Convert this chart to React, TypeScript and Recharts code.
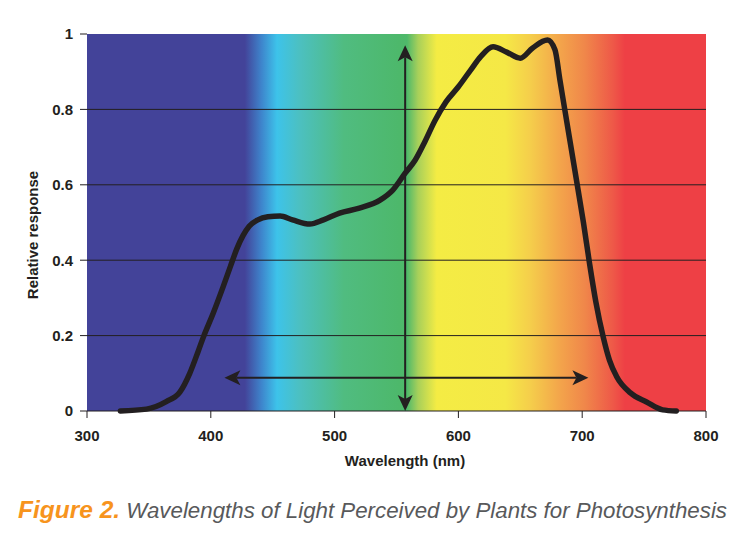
import React from "react";
import { Label, Line, LineChart, ReferenceArea, ReferenceLine, XAxis, YAxis } from "recharts";

// wavelength (nm) and relative response
const wavelengths = [
  327, 348, 364, 375, 383, 390, 394, 402, 410, 416, 421, 426, 431, 438, 446, 456, 466, 480, 491,
  504, 520, 537, 547, 557, 565, 573, 581, 590, 600, 610, 618, 628, 639, 650, 660, 672, 678, 682,
  686, 690, 696, 701, 706, 711, 717, 722, 728, 739, 752, 765, 776,
];
const response = [
  0, 0.005, 0.025, 0.05, 0.1, 0.16, 0.196, 0.26, 0.33, 0.385, 0.43, 0.465, 0.49, 0.507, 0.515,
  0.517, 0.507, 0.496, 0.507, 0.525, 0.538, 0.56, 0.586, 0.631, 0.665, 0.715, 0.77, 0.82, 0.86,
  0.905, 0.94, 0.966, 0.952, 0.936, 0.963, 0.984, 0.958, 0.878, 0.798, 0.719, 0.6, 0.5, 0.39,
  0.29, 0.196, 0.135, 0.09, 0.048, 0.024, 0.003, 0,
];
const xTicks = [300, 400, 500, 600, 700, 800];
const yTicks = [0, 0.2, 0.4, 0.6, 0.8, 1];
const gridLevels = [0.2, 0.4, 0.6, 0.8];
const verticalArrow = [{ x: 557, y: 0 }, { x: 557, y: 0.97 }];
const horizontalArrow = [{ x: 411, y: 0.088 }, { x: 705, y: 0.088 }];

const data = wavelengths.map((w, i) => ({ w, r: response[i] }));

// spectrum background stops: [offset, color]
const spectrum: [number, string][] = [
  [0, "#434399"],
  [0.255, "#434399"],
  [0.282, "#3E85CC"],
  [0.307, "#3DC3EA"],
  [0.344, "#4CC0C0"],
  [0.415, "#50BC80"],
  [0.504, "#4DB86B"],
  [0.517, "#4FB96A"],
  [0.535, "#A8D05A"],
  [0.565, "#F4EC44"],
  [0.676, "#F5E846"],
  [0.716, "#F5CE4B"],
  [0.766, "#F3A34B"],
  [0.804, "#F0874A"],
  [0.85, "#EE5848"],
  [0.869, "#EE4045"],
  [1, "#EE4045"],
];

const INK = "#231F20";

function headPath(tx: number, ty: number, ux: number, uy: number, L: number, hw: number, notch: number) {
  const bx = tx - ux * L;
  const by = ty - uy * L;
  const px = -uy;
  const py = ux;
  const nx = tx - ux * (L - notch);
  const ny = ty - uy * (L - notch);
  return `M${tx},${ty} L${bx + px * hw},${by + py * hw} L${nx},${ny} L${bx - px * hw},${by - py * hw} Z`;
}

function DoubleArrow(props: any) {
  const { x1, y1, x2, y2 } = props;
  const len = Math.hypot(x2 - x1, y2 - y1) || 1;
  const ux = (x2 - x1) / len;
  const uy = (y2 - y1) / len;
  const L = 16;
  const hw = 7.5;
  const notch = 4;
  return (
    <g>
      <line
        x1={x1 + ux * (L - notch)}
        y1={y1 + uy * (L - notch)}
        x2={x2 - ux * (L - notch)}
        y2={y2 - uy * (L - notch)}
        stroke={INK}
        strokeWidth={2}
      />
      <path d={headPath(x2, y2, ux, uy, L, hw, notch)} fill={INK} />
      <path d={headPath(x1, y1, -ux, -uy, L, hw, notch)} fill={INK} />
    </g>
  );
}

const tickStyle = { fontSize: 15, fontWeight: "bold" as const, fill: INK };

export default function App() {
  return (
    <div
      style={{
        position: "absolute",
        left: 0,
        top: 0,
        width: 754,
        height: 559,
        background: "#fff",
        fontFamily: '"Liberation Sans", Arial, sans-serif',
      }}
    >
      <LineChart width={754} height={480} data={data} margin={{ top: 34, right: 48, bottom: 0, left: 0 }}>
        <defs>
          <linearGradient id="spectrum" x1="0" y1="0" x2="1" y2="0">
            {spectrum.map(([o, c]) => (
              <stop key={o} offset={o} stopColor={c} />
            ))}
          </linearGradient>
        </defs>
        <XAxis
          dataKey="w"
          type="number"
          domain={[300, 800]}
          ticks={xTicks}
          height={69}
          tick={tickStyle}
          axisLine={{ stroke: INK }}
          tickLine={{ stroke: INK }}
          tickSize={7}
          tickMargin={12}
        >
          <Label
            content={() => (
              <text x={405} y={466} textAnchor="middle" fontSize={15} fontWeight="bold" fill={INK}>
                Wavelength (nm)
              </text>
            )}
          />
        </XAxis>
        <YAxis
          type="number"
          domain={[0, 1]}
          ticks={yTicks}
          width={87}
          tick={tickStyle}
          axisLine={false}
          tickLine={{ stroke: INK }}
          tickSize={7}
          tickMargin={7}
        >
          <Label
            content={() => (
              <text
                x={37.5}
                y={235}
                transform="rotate(-90 37.5 235)"
                textAnchor="middle"
                fontSize={15}
                fontWeight="bold"
                fill={INK}
              >
                Relative response
              </text>
            )}
          />
        </YAxis>
        <ReferenceArea x1={300} x2={800} y1={0} y2={1} fill="url(#spectrum)" fillOpacity={1} stroke="none" />
        {gridLevels.map((v) => (
          <ReferenceLine key={v} y={v} stroke={INK} strokeWidth={1} />
        ))}
        <ReferenceLine segment={verticalArrow} shape={DoubleArrow} />
        <ReferenceLine segment={horizontalArrow} shape={DoubleArrow} />
        <Line
          dataKey="r"
          type="monotone"
          stroke={INK}
          strokeWidth={5.5}
          strokeLinecap="round"
          strokeLinejoin="round"
          dot={false}
          activeDot={false}
          isAnimationActive={false}
        />
      </LineChart>
      <div
        style={{
          position: "absolute",
          left: 18,
          top: 497,
          fontSize: 22.3,
          fontStyle: "italic",
          whiteSpace: "nowrap",
          color: "#58595B",
          lineHeight: "26px",
        }}
      >
        <span style={{ fontWeight: "bold", color: "#F7941D", fontSize: 24.5 }}>Figure 2.</span> Wavelengths of
        Light Perceived by Plants for Photosynthesis
      </div>
    </div>
  );
}
